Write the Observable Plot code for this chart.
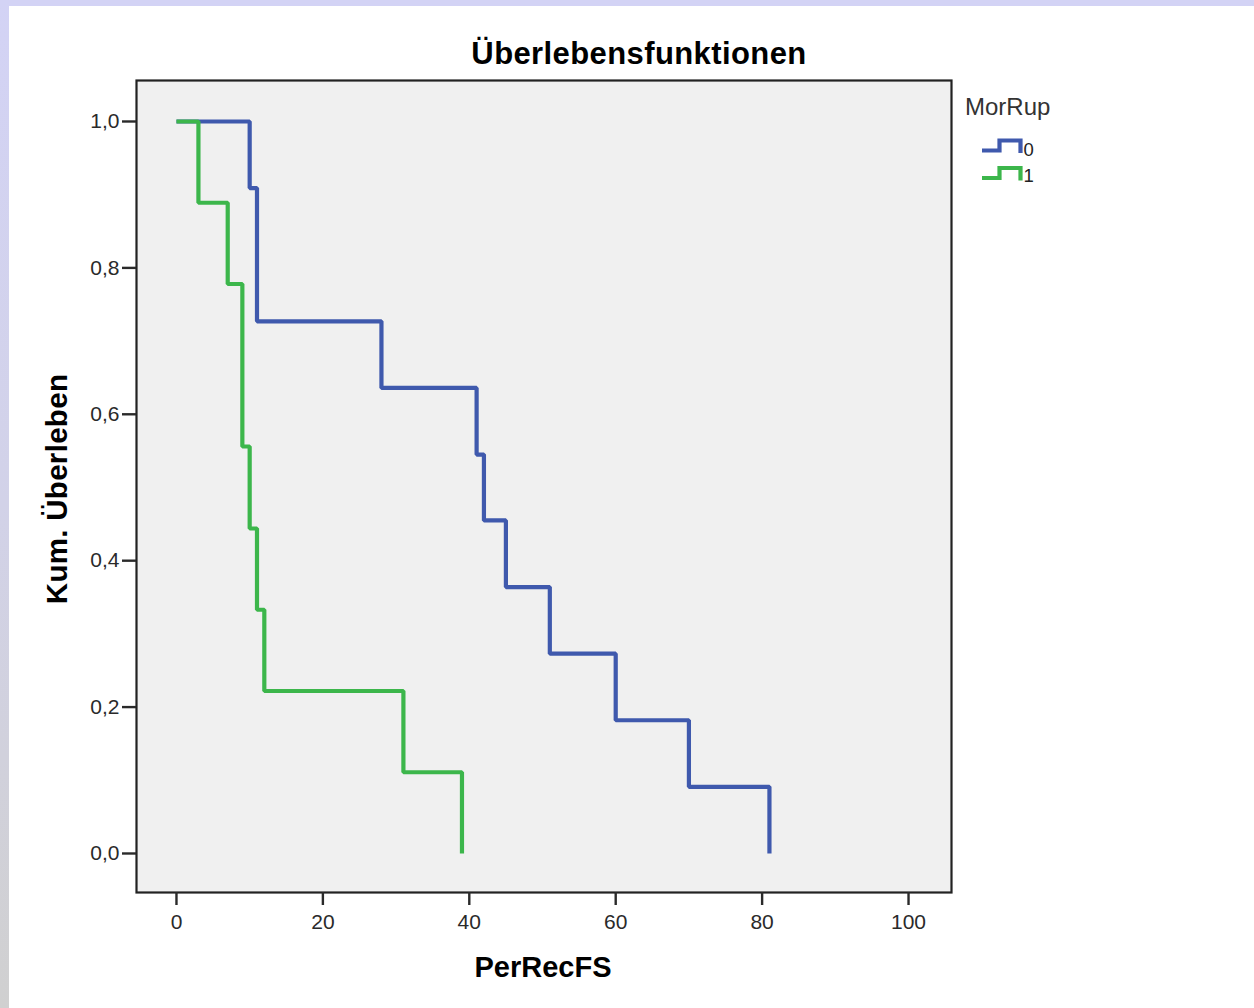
<!DOCTYPE html>
<html>
<head>
<meta charset="utf-8">
<script src="https://cdn.jsdelivr.net/npm/d3@7"></script>
<script src="https://cdn.jsdelivr.net/npm/@observablehq/plot@0.6"></script>
<style>
  html, body { margin: 0; padding: 0; background: #fff; }
  #wrap { position: relative; width: 1254px; height: 1008px; overflow: hidden; background: #fff;
          font-family: "Liberation Sans", Arial, sans-serif; }
  #topband { position: absolute; left: 0; top: 0; width: 1254px; height: 6px; background: #d3d3f5; }
  #leftband { position: absolute; left: 0; top: 0; width: 9px; height: 1008px;
              background: linear-gradient(to bottom, #d3d3f5 0%, #d2d2e8 50%, #d0d0d0 100%); }
  #chart { position: absolute; left: 0; top: 0; }
  #overlay { position: absolute; left: 0; top: 0; pointer-events: none; }
</style>
</head>
<body>
<div id="wrap">
  <div id="topband"></div>
  <div id="leftband"></div>
  <div id="chart"></div>
  <svg id="overlay" width="1254" height="1008" xmlns="http://www.w3.org/2000/svg"
       font-family="Liberation Sans, Arial, sans-serif">
    <text x="639" y="64" text-anchor="middle" font-size="31" font-weight="bold" fill="#000" letter-spacing="0.4">Überlebensfunktionen</text>
    <text x="543" y="977" text-anchor="middle" font-size="29" font-weight="bold" fill="#000">PerRecFS</text>
    <text transform="translate(67,489) rotate(-90)" text-anchor="middle" font-size="29.5" font-weight="bold" fill="#000" letter-spacing="0.3">Kum. Überleben</text>
    <text x="965" y="115" font-size="24" fill="#333">MorRup</text>
    <path d="M982,150.5 H999.5 V140.5 H1020.5 V153" fill="none" stroke="#3f59ad" stroke-width="4.2" stroke-linejoin="miter"/>
    <text x="1023.5" y="156" font-size="18.5" fill="#222">0</text>
    <path d="M982,178 H999.5 V168 H1020.5 V180.5" fill="none" stroke="#3cb64b" stroke-width="4.2" stroke-linejoin="miter"/>
    <text x="1023.5" y="182" font-size="18.5" fill="#222">1</text>
  </svg>
</div>
<script>
// Data (Kaplan-Meier step functions)
const groups = ["0", "1"];
const groupColors = ["#3f59ad", "#3cb64b"];
const times0 = [0, 10, 11, 28, 41, 42, 45, 51, 60, 70, 81];
const surv0  = [1.0, 0.909, 0.727, 0.636, 0.545, 0.455, 0.364, 0.273, 0.182, 0.091, 0.0];
const times1 = [0, 3, 7, 9, 10, 11, 12, 31, 39];
const surv1  = [1.0, 0.889, 0.778, 0.556, 0.444, 0.333, 0.222, 0.111, 0.0];
const xTicks = [0, 20, 40, 60, 80, 100];
const yTicks = [0.0, 0.2, 0.4, 0.6, 0.8, 1.0];

const rows = [
  ...times0.map((t, i) => ({group: "0", time: t, surv: surv0[i]})),
  ...times1.map((t, i) => ({group: "1", time: t, surv: surv1[i]}))
];

const chart = Plot.plot({
  width: 1254,
  height: 1008,
  marginLeft: 136,
  marginRight: 303,
  marginTop: 80,
  marginBottom: 116,
  style: {fontFamily: "Liberation Sans, Arial, sans-serif", background: "transparent", overflow: "visible"},
  x: {domain: [-5.46, 105.87], ticks: xTicks},
  y: {domain: [-0.0533, 1.056], ticks: yTicks},
  color: {domain: groups, range: groupColors},
  marks: [
    Plot.frame({fill: "#f0f0f0", stroke: null}),
    Plot.line(rows, {
      x: "time", y: "surv", z: "group", stroke: "group",
      curve: "step-after", strokeWidth: 4.2,
      strokeLinejoin: "miter", strokeLinecap: "butt"
    }),
    Plot.frame({stroke: "#222", strokeWidth: 2.2}),
    Plot.axisX({
      ticks: xTicks, tickSize: 13, tickPadding: 9, fontSize: 21,
      color: "#2a2a2a", strokeWidth: 2.4, tickFormat: d => String(d), label: null
    }),
    Plot.axisY({
      ticks: yTicks, tickSize: 14, tickPadding: 3, fontSize: 21,
      color: "#2a2a2a", strokeWidth: 2.4,
      tickFormat: d => d.toFixed(1).replace(".", ","), label: null
    })
  ]
});
document.getElementById("chart").appendChild(chart);
</script>
</body>
</html>
